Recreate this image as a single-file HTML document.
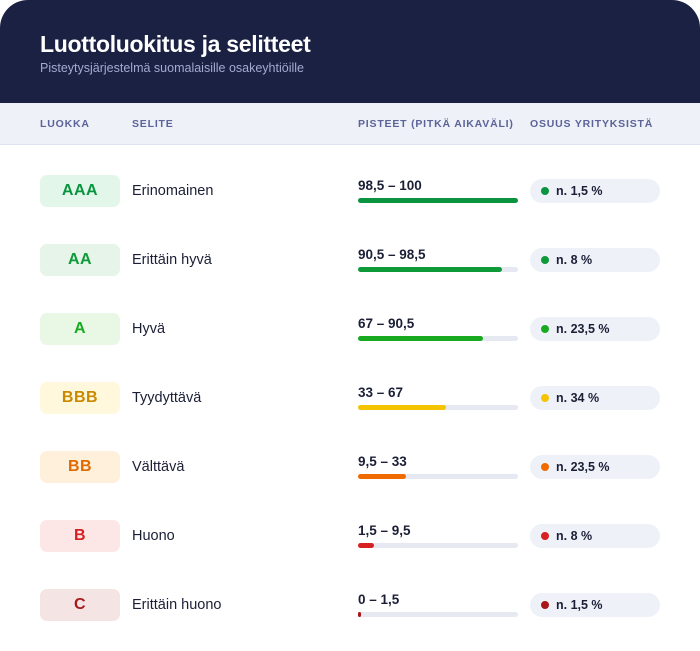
<!DOCTYPE html><html><head><meta charset="utf-8"><style>
body{margin:0;width:700px;height:651px;background:#fff;font-family:"Liberation Sans",sans-serif;position:relative;overflow:hidden}
.hd{position:absolute;left:0;top:0;width:700px;height:103px;background:#1b2142;border-radius:28px 28px 0 0}
.t{position:absolute;left:40px;top:31px;color:#fff;font-size:23px;font-weight:bold;letter-spacing:-0.3px}
.st{position:absolute;left:40px;top:61px;color:#a4aad0;font-size:12.5px}
.th{position:absolute;left:0;top:103px;width:700px;height:41px;background:#eef1f8;border-bottom:1px solid #dfe3ef}
.th span{position:absolute;top:15px;font-size:10.5px;font-weight:bold;letter-spacing:0.8px;color:#5b6398}
.b{position:absolute;left:40px;width:80px;height:32px;border-radius:7px;text-align:center;line-height:32px;font-weight:bold;font-size:16px;letter-spacing:.5px}
.l{position:absolute;left:132px;font-size:14.5px;color:#1b1f36;line-height:32px}
.r{position:absolute;left:358px;font-size:13.5px;font-weight:bold;color:#1b1f36}
.tr{position:absolute;left:358px;width:160px;height:5px;border-radius:3px;background:#e6e9f2}
.tr i{position:absolute;left:0;top:0;height:5px;border-radius:3px}
.p{position:absolute;left:530px;width:130px;height:24px;border-radius:12px;background:#eef1f8;font-size:12.5px;font-weight:bold;color:#1b1f36;line-height:24px}
.p i{position:absolute;left:11px;top:8px;width:8px;height:8px;border-radius:50%}
.p span{position:absolute;left:26px}
</style></head><body>
<div class="hd"><div class="t">Luottoluokitus ja selitteet</div><div class="st">Pisteytysjärjestelmä suomalaisille osakeyhtiöille</div></div>
<div class="th"><span style="left:40px">LUOKKA</span><span style="left:132px">SELITE</span><span style="left:358px">PISTEET (PITKÄ AIKAVÄLI)</span><span style="left:530px">OSUUS YRITYKSISTÄ</span></div>

<div class="b" style="top:175px;background:#e2f7ea;color:#0a9440">AAA</div><div class="l" style="top:175px">Erinomainen</div>
<div class="r" style="top:178px">98,5 – 100</div><div class="tr" style="top:198px"><i style="width:160px;background:#0a9440"></i></div>
<div class="p" style="top:179px"><i style="background:#0a9440"></i><span>n. 1,5 %</span></div>

<div class="b" style="top:244px;background:#e6f4ea;color:#0f9a3a">AA</div><div class="l" style="top:244px">Erittäin hyvä</div>
<div class="r" style="top:247px">90,5 – 98,5</div><div class="tr" style="top:267px"><i style="width:144px;background:#0f9a3a"></i></div>
<div class="p" style="top:248px"><i style="background:#0f9a3a"></i><span>n. 8 %</span></div>

<div class="b" style="top:313px;background:#e8f8e4;color:#1aaa22">A</div><div class="l" style="top:313px">Hyvä</div>
<div class="r" style="top:316px">67 – 90,5</div><div class="tr" style="top:336px"><i style="width:125px;background:#1aaa22"></i></div>
<div class="p" style="top:317px"><i style="background:#1aaa22"></i><span>n. 23,5 %</span></div>

<div class="b" style="top:382px;background:#fff8dc;color:#c98a00">BBB</div><div class="l" style="top:382px">Tyydyttävä</div>
<div class="r" style="top:385px">33 – 67</div><div class="tr" style="top:405px"><i style="width:88px;background:#f5c400"></i></div>
<div class="p" style="top:386px"><i style="background:#f5c400"></i><span>n. 34 %</span></div>

<div class="b" style="top:451px;background:#fff0dc;color:#e06a00">BB</div><div class="l" style="top:451px">Välttävä</div>
<div class="r" style="top:454px">9,5 – 33</div><div class="tr" style="top:474px"><i style="width:48px;background:#f06a00"></i></div>
<div class="p" style="top:455px"><i style="background:#f06a00"></i><span>n. 23,5 %</span></div>

<div class="b" style="top:520px;background:#fde6e6;color:#d42020">B</div><div class="l" style="top:520px">Huono</div>
<div class="r" style="top:523px">1,5 – 9,5</div><div class="tr" style="top:543px"><i style="width:16px;background:#d82020"></i></div>
<div class="p" style="top:524px"><i style="background:#d82020"></i><span>n. 8 %</span></div>

<div class="b" style="top:589px;background:#f5e4e4;color:#a51a1a">C</div><div class="l" style="top:589px">Erittäin huono</div>
<div class="r" style="top:592px">0 – 1,5</div><div class="tr" style="top:612px"><i style="width:3px;background:#a81818"></i></div>
<div class="p" style="top:593px"><i style="background:#a81818"></i><span>n. 1,5 %</span></div>
</body></html>
